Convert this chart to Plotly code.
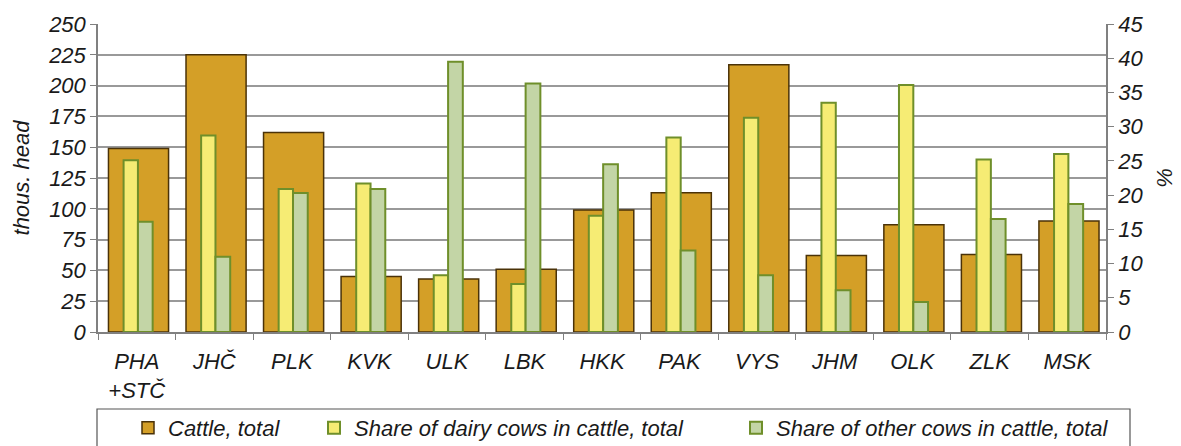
import plotly.graph_objects as go

# Regions (NUTS 3) and values
regions = ["PHA<br>+STČ", "JHČ", "PLK", "KVK", "ULK", "LBK", "HKK",
           "PAK", "VYS", "JHM", "OLK", "ZLK", "MSK"]
cattle_total = [149, 225, 162, 45, 43, 51, 99, 113, 217, 62, 87, 63, 90]          # thous. head
dairy_share = [25.1, 28.7, 20.9, 21.7, 8.3, 7.0, 17.0, 28.4, 31.3, 33.5, 36.1, 25.2, 26.0]  # %
other_share = [16.1, 11.0, 20.3, 20.9, 39.5, 36.3, 24.5, 11.9, 8.3, 6.1, 4.4, 16.5, 18.7]   # %

W, H = 1181, 446
L, R, T, B = 98, 1106, 24, 332          # plot area in pixels


def px_x(p):
    return (p - L) / (R - L)


def px_y(p):
    return (B - p) / (B - T)


FONT = dict(family="Liberation Sans, Arial, sans-serif", size=22, color="#1a1a1a", style="italic")
OUTLINE_GREEN = "#6f8f2a"
AXIS_GREY = "#808080"

fig = go.Figure()
fig.add_trace(go.Bar(
    x=regions, y=cattle_total, name="Cattle, total",
    width=0.775, offset=-0.365,
    marker=dict(color="#d49f27", line=dict(color="#4a3208", width=1.5)),
    yaxis="y", legend="legend",
))
fig.add_trace(go.Bar(
    x=regions, y=dairy_share, name="Share of dairy cows in cattle, total",
    width=0.185, offset=-0.17,
    marker=dict(color="#f6ec74", line=dict(color=OUTLINE_GREEN, width=2)),
    yaxis="y2", legend="legend2",
))
fig.add_trace(go.Bar(
    x=regions, y=other_share, name="Share of other cows in cattle, total",
    width=0.19, offset=0.015,
    marker=dict(color="#c3d5a6", line=dict(color=OUTLINE_GREEN, width=2)),
    yaxis="y2", legend="legend3",
))

# one legend per series so each entry sits at its own place in the box
legend_common = dict(orientation="h", xref="container", yref="container",
                     xanchor="left", yanchor="middle", y=1 - 428 / H,
                     font=FONT, bgcolor="rgba(0,0,0,0)", borderwidth=0, visible=True)

fig.update_layout(
    width=W, height=H,
    margin=dict(l=L, r=W - R, t=T, b=H - B, autoexpand=False),
    paper_bgcolor="white", plot_bgcolor="white",
    barmode="overlay",
    showlegend=True,
    font=FONT,
    xaxis=dict(
        type="category", tickson="boundaries", ticks="outside", ticklen=6,
        tickcolor=AXIS_GREY, showline=True, linecolor=AXIS_GREY, linewidth=1.5,
        showgrid=False, tickfont=FONT, ticklabelstandoff=9, automargin=False,
    ),
    yaxis=dict(
        range=[0, 250], dtick=25, ticks="outside", ticklen=6, tickcolor=AXIS_GREY,
        showline=True, linecolor=AXIS_GREY, linewidth=1.5,
        showgrid=True, gridcolor="#999999", gridwidth=1.5,
        zeroline=False, tickfont=FONT, automargin=False,
        title=dict(text="thous. head", font=FONT, standoff=12),
    ),
    yaxis2=dict(
        range=[0, 45], dtick=5, overlaying="y", side="right",
        ticks="outside", ticklen=6, tickcolor=AXIS_GREY,
        showline=True, linecolor=AXIS_GREY, linewidth=1.5,
        showgrid=False, zeroline=False, tickfont=FONT, automargin=False,
        title=dict(text="%", font=FONT, standoff=14),
    ),
    legend=dict(x=(150 - 22) / W, **legend_common),
    legend2=dict(x=(336 - 22) / W, **legend_common),
    legend3=dict(x=(758 - 22) / W, **legend_common),
    shapes=[dict(
        type="rect", xref="paper", yref="paper",
        x0=px_x(97), x1=px_x(1130), y0=px_y(409), y1=px_y(452),
        line=dict(color="#555555", width=1.2), fillcolor="rgba(0,0,0,0)", layer="below",
    )],
)

fig.write_html("out.html")
